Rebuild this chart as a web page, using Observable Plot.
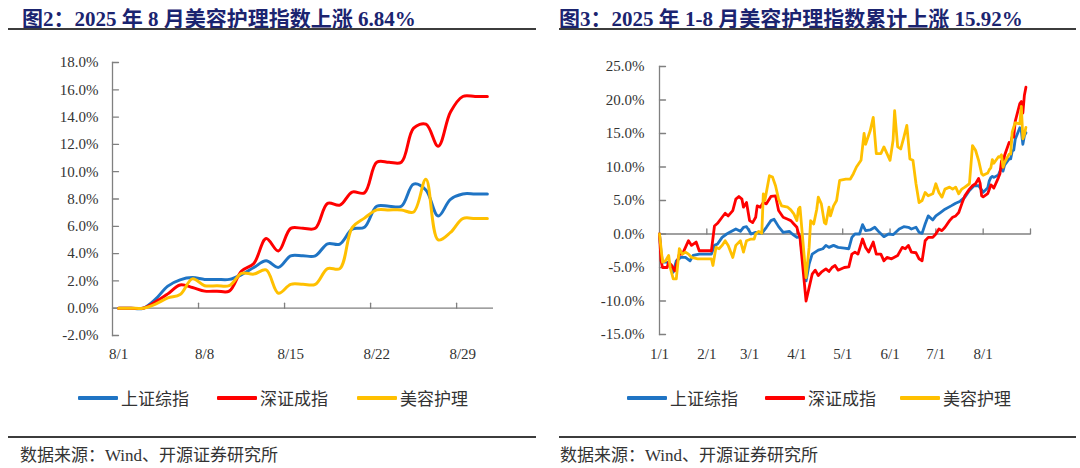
<!DOCTYPE html>
<html><head><meta charset="utf-8">
<script src="https://cdn.jsdelivr.net/npm/d3@7"></script>
<script src="https://cdn.jsdelivr.net/npm/@observablehq/plot@0.6"></script>
<style>
html,body{margin:0;padding:0;background:#fff;}
body{width:1080px;height:468px;overflow:hidden;position:relative;font-family:"Liberation Serif","Noto Sans CJK SC",serif;}
.title{position:absolute;top:2px;font-weight:bold;font-size:21px;color:#1b2470;white-space:nowrap;}
.rule{position:absolute;height:2px;background:#3c3c3c;}
.chart{position:absolute;top:50px;width:540px;height:320px;}
.item{position:absolute;top:385px;display:flex;align-items:center;font-size:17px;color:#333;white-space:nowrap;}
.sw{width:40px;height:4px;margin-right:3px;border-radius:1px;}
.source{position:absolute;top:441px;font-size:17px;color:#333;white-space:nowrap;}
</style></head>
<body>
<div class="title" style="left:22px">图2：2025 年 8 月美容护理指数上涨 6.84%</div>
<div class="title" style="left:559px">图3：2025 年 1-8 月美容护理指数累计上涨 15.92%</div>
<div class="rule" style="left:8px;width:528px;top:28px"></div>
<div class="rule" style="left:559px;width:517px;top:28px"></div>
<div class="chart" id="left" style="left:0px"></div>
<div class="chart" id="right" style="left:540px"></div>
<div id="legends"></div>
<div class="rule" style="left:8px;width:528px;top:436px;height:1.5px"></div>
<div class="rule" style="left:559px;width:517px;top:436px;height:1.5px"></div>
<div class="source" style="left:20px">数据来源：Wind、开源证券研究所</div>
<div class="source" style="left:560px">数据来源：Wind、开源证券研究所</div>
<script>
// ---------- data ----------
const seriesNames = ["上证综指", "深证成指", "美容护理"];
const seriesColors = ["#1f74c4", "#ff0000", "#ffc000"];

// Figure 2: August 2025, calendar days (weekends carry the last close)
const augDays = ["8/1","8/2","8/3","8/4","8/5","8/6","8/7","8/8","8/9","8/10","8/11","8/12","8/13","8/14","8/15","8/16","8/17","8/18","8/19","8/20","8/21","8/22","8/23","8/24","8/25","8/26","8/27","8/28","8/29","8/30","8/31"];
const augShanghai = [0,0,0,0.66,1.62,2.08,2.24,2.11,2.11,2.11,2.46,2.98,3.47,2.99,3.84,3.84,3.84,4.72,4.70,5.79,5.93,7.47,7.47,7.47,9.09,8.66,6.75,7.97,8.37,8.37,8.37];
const augShenzhen = [0,0,0,0.46,1.05,1.70,1.52,1.25,1.25,1.25,2.73,3.28,5.10,4.19,5.85,5.85,5.85,7.68,7.55,8.51,8.45,10.69,10.69,10.69,13.19,13.48,11.86,14.37,15.51,15.51,15.51];
const augBeauty = [0,0,0,0.30,0.75,1.00,2.15,1.65,1.65,1.65,2.55,2.50,2.80,1.10,1.75,1.75,1.75,2.90,2.90,5.90,6.60,7.20,7.20,7.20,7.05,9.45,5.00,5.55,6.57,6.57,6.57];
const augLabelDays = ["8/1","8/8","8/15","8/22","8/29"];
const augYTicks = [-2,0,2,4,6,8,10,12,14,16,18];

// Figure 3: 2025-01-01 .. 2025-08-29, cumulative %
const ytdShanghai = [
["01-01",0],["01-02",-2.7],["01-03",-4.2],["01-06",-4.2],["01-08",-4.7],["01-10",-5.7],["01-12",-4.0],["01-15",-3.5],["01-18",-3.5],["01-21",-4.0],["01-23",-3.2],["01-27",-3.0],["02-04",-3.0],["02-06",-1.7],["02-08",-1.5],["02-11",-0.5],["02-14",0],["02-16",0.25],["02-20",0.75],["02-23",0.4],["02-25",1.0],["02-27",1.1],["03-02",0],["03-05",0.25],["03-09",0.1],["03-12",1.0],["03-15",2.0],["03-17",2.2],["03-20",1.1],["03-23",0.25],["03-27",0.4],["03-29",0],["04-01",-0.5],["04-03",-0.4],["04-07",-7.0],["04-09",-4.5],["04-11",-3.0],["04-13",-2.7],["04-15",-2.4],["04-18",-2.2],["04-20",-1.7],["04-22",-2.0],["04-25",-1.7],["04-28",-2.0],["05-02",-2.1],["05-05",-2.2],["05-07",-0.5],["05-09",0],["05-12",0],["05-14",1.4],["05-16",0.5],["05-19",0.6],["05-22",1.0],["05-25",0.25],["05-28",-0.4],["05-31",0],["06-03",-0.1],["06-07",0.75],["06-10",1.1],["06-13",1.0],["06-15",0.75],["06-18",1.0],["06-20",0.25],["06-22",0.1],["06-24",1.5],["06-26",2.7],["06-29",2.1],["07-01",2.7],["07-04",3.2],["07-07",3.7],["07-11",4.2],["07-14",4.6],["07-17",4.9],["07-20",5.5],["07-23",6.5],["07-26",7.2],["07-29",7.2],["07-31",6.6],
["08-01",6.21],["08-04",6.91],["08-05",7.93],["08-06",8.42],["08-07",8.59],["08-08",8.45],["08-11",8.82],["08-12",9.37],["08-13",9.89],["08-14",9.38],["08-15",10.29],["08-18",11.22],["08-19",11.20],["08-20",12.36],["08-21",12.51],["08-22",14.15],["08-25",15.86],["08-26",15.41],["08-27",13.38],["08-28",14.67],["08-29",15.10]];
const ytdShenzhen = [
["01-01",0],["01-02",-4.0],["01-03",-5.0],["01-06",-5.0],["01-07",-4.2],["01-09",-4.7],["01-11",-5.5],["01-14",-3.0],["01-16",-3.0],["01-20",-1.0],["01-22",-1.7],["01-25",-1.2],["01-27",-2.5],["02-04",-2.5],["02-06",1.2],["02-08",1.6],["02-11",2.5],["02-13",3.1],["02-15",2.7],["02-18",3.5],["02-20",5.2],["02-22",5.6],["02-24",5.2],["02-25",4.0],["02-27",4.7],["03-01",2.0],["03-03",1.7],["03-05",2.5],["03-06",4.2],["03-08",4.0],["03-10",4.7],["03-12",4.5],["03-15",5.6],["03-18",5.7],["03-20",3.5],["03-23",2.5],["03-26",2.2],["03-28",2.0],["03-30",1.5],["04-01",1.0],["04-02",0.1],["04-03",-0.5],["04-07",-10.0],["04-09",-8.0],["04-11",-6.0],["04-13",-5.4],["04-15",-6.2],["04-17",-5.7],["04-20",-5.2],["04-22",-5.6],["04-24",-5.0],["04-26",-4.7],["04-28",-5.4],["05-02",-5.0],["05-05",-4.9],["05-07",-3.0],["05-09",-2.7],["05-11",-3.0],["05-14",-0.75],["05-16",-2.0],["05-18",-2.7],["05-21",-1.2],["05-23",-3.0],["05-26",-3.0],["05-28",-4.0],["05-30",-3.5],["06-02",-3.7],["06-06",-3.2],["06-09",-2.0],["06-11",-2.2],["06-13",-1.7],["06-15",-2.7],["06-18",-2.8],["06-20",-3.7],["06-22",-4.0],["06-24",-1.0],["06-26",-0.5],["06-29",-0.5],["07-01",0],["07-03",0.75],["07-05",0.5],["07-07",1.0],["07-10",2.0],["07-12",2.5],["07-14",2.7],["07-16",3.2],["07-18",4.5],["07-20",5.7],["07-23",6.7],["07-25",7.2],["07-27",7.5],["07-29",8.3],["07-30",7.6],["07-31",5.7],
["08-01",5.54],["08-04",6.03],["08-05",6.65],["08-06",7.33],["08-07",7.15],["08-08",6.86],["08-11",8.42],["08-12",9.00],["08-13",10.92],["08-14",9.96],["08-15",11.71],["08-18",13.65],["08-19",13.51],["08-20",14.52],["08-21",14.46],["08-22",16.82],["08-25",19.46],["08-26",19.77],["08-27",18.06],["08-28",20.71],["08-29",21.91]];
const ytdBeauty = [
["01-01",0],["01-03",-4.2],["01-05",-4.0],["01-07",-3.2],["01-08",-5.0],["01-10",-6.7],["01-12",-6.7],["01-14",-2.2],["01-16",-3.0],["01-18",-2.7],["01-20",-3.0],["01-22",-3.5],["01-26",-3.7],["02-04",-3.7],["02-05",-4.7],["02-07",-2.0],["02-09",-2.2],["02-11",-1.7],["02-13",-1.0],["02-15",-1.7],["02-18",-3.5],["02-20",-1.7],["02-23",-1.0],["02-25",-2.7],["02-27",-1.0],["03-02",-0.75],["03-04",-0.75],["03-05",0],["03-07",0.4],["03-09",0.1],["03-10",6.0],["03-11",5.0],["03-14",8.7],["03-16",8.5],["03-18",7.2],["03-20",5.2],["03-22",4.2],["03-26",4.0],["03-28",3.6],["03-30",3.0],["04-01",2.0],["04-02",3.7],["04-03",4.0],["04-07",-6.5],["04-09",-2.0],["04-10",2.0],["04-12",1.5],["04-14",3.7],["04-15",5.5],["04-17",4.5],["04-19",1.7],["04-20",1.5],["04-22",4.0],["04-23",2.7],["04-25",4.2],["04-27",5.0],["04-29",8.0],["05-03",8.2],["05-06",8.2],["05-08",9.0],["05-10",10.0],["05-13",11.0],["05-15",15.0],["05-16",13.4],["05-19",15.4],["05-21",17.4],["05-23",12.0],["05-26",12.0],["05-28",13.0],["05-30",12.0],["06-01",11.0],["06-03",14.0],["06-04",18.4],["06-06",13.0],["06-08",12.7],["06-10",14.4],["06-12",16.2],["06-14",11.2],["06-16",11.0],["06-18",7.5],["06-20",4.7],["06-22",5.0],["06-24",6.2],["06-26",5.7],["06-29",6.0],["07-01",7.5],["07-03",6.2],["07-05",5.5],["07-07",6.7],["07-10",7.0],["07-12",6.7],["07-14",7.0],["07-16",6.0],["07-18",6.7],["07-20",7.0],["07-23",7.5],["07-25",13.2],["07-27",12.5],["07-29",11.0],["07-31",9.0],
["08-01",8.77],["08-04",9.10],["08-05",9.59],["08-06",9.86],["08-07",11.11],["08-08",10.56],["08-11",11.54],["08-12",11.49],["08-13",11.82],["08-14",9.97],["08-15",10.67],["08-18",11.92],["08-19",11.92],["08-20",15.19],["08-21",15.95],["08-22",16.60],["08-25",16.44],["08-26",19.05],["08-27",14.21],["08-28",14.81],["08-29",15.92]];
const ytdMonthLabels = ["1/1","2/1","3/1","4/1","5/1","6/1","7/1","8/1"];
const ytdTickMonths = ["02-01","03-01","04-01","05-01","06-01","07-01","08-01","09-01"];
const ytdYTicks = [-15,-10,-5,0,5,10,15,20,25];

// ---------- build ----------
const axisColor = "#808080";
const tickShape = {draw(context, l) { context.moveTo(0, 0); context.lineTo(0, -l); }};
const pct = d => d.toFixed(1) + "%";
const color = {domain: seriesNames, range: seriesColors};
const baseStyle = {fontFamily: "'Liberation Serif', serif", fontSize: "15px", color: "#333", background: "transparent", overflow: "visible"};

const augRows = [];
[augShanghai, augShenzhen, augBeauty].forEach((arr, k) => arr.forEach((v, i) => augRows.push({i, s: seriesNames[k], v})));
const augLabelIdx = augLabelDays.map(d => augDays.indexOf(d));
const augTickMarks = augLabelIdx.slice(1).map(i => i - 0.5);

const leftPlot = Plot.plot({
  width: 540, height: 320, marginLeft: 112, marginRight: 47, marginTop: 12, marginBottom: 35,
  style: baseStyle, color,
  x: {type: "linear", domain: [-0.5, augDays.length - 0.5]},
  y: {domain: [augYTicks[0], augYTicks[augYTicks.length - 1]]},
  marks: [
    Plot.frame({anchor: "left", stroke: axisColor, strokeWidth: 1.3}),
    Plot.ruleY([0], {stroke: axisColor, strokeWidth: 1.3}),
    Plot.vector(augYTicks, {y: d => d, frameAnchor: "left", rotate: 90, length: 6, anchor: "start", shape: tickShape, stroke: axisColor, strokeWidth: 1.3}),
    Plot.vector(augTickMarks, {x: d => d, y: 0, length: 5, anchor: "start", shape: tickShape, stroke: axisColor, strokeWidth: 1.3}),
    Plot.axisY({ticks: augYTicks, tickSize: 0, tickPadding: 14, tickFormat: pct, label: null, fill: "#333"}),
    Plot.axisX({ticks: augLabelIdx, tickSize: 0, tickPadding: 13, tickFormat: i => augDays[i], label: null, fill: "#333"}),
    Plot.line(augRows, {x: "i", y: "v", z: "s", stroke: "s", strokeWidth: 3, curve: "catmull-rom"})
  ]
});
document.getElementById("left").append(leftPlot);

const parse = md => new Date("2025-" + md + "T00:00:00Z");
const ytdRows = [];
[ytdShanghai, ytdShenzhen, ytdBeauty].forEach((arr, k) => arr.forEach(([d, v]) => ytdRows.push({date: parse(d), s: seriesNames[k], v})));
const monthLabelDates = ytdMonthLabels.map(l => { const [m, d] = l.split("/"); return parse(m.padStart(2, "0") + "-" + d.padStart(2, "0")); });

const rightPlot = Plot.plot({
  width: 540, height: 320, marginLeft: 119, marginRight: 50, marginTop: 16, marginBottom: 36,
  style: baseStyle, color,
  x: {type: "utc", domain: [parse("01-01"), parse(ytdTickMonths[ytdTickMonths.length - 1])]},
  y: {domain: [ytdYTicks[0], ytdYTicks[ytdYTicks.length - 1]]},
  marks: [
    Plot.frame({anchor: "left", stroke: axisColor, strokeWidth: 1.3}),
    Plot.ruleY([0], {stroke: axisColor, strokeWidth: 1.3}),
    Plot.vector(ytdYTicks, {y: d => d, frameAnchor: "left", rotate: 90, length: 6, anchor: "start", shape: tickShape, stroke: axisColor, strokeWidth: 1.3}),
    Plot.vector(ytdTickMonths.map(parse), {x: d => d, y: 0, length: 5, anchor: "start", shape: tickShape, stroke: axisColor, strokeWidth: 1.3}),
    Plot.axisY({ticks: ytdYTicks, tickSize: 0, tickPadding: 15, tickFormat: pct, label: null, fill: "#333"}),
    Plot.axisX({ticks: monthLabelDates, tickSize: 0, tickPadding: 14, tickFormat: (d, i) => ytdMonthLabels[i], label: null, fill: "#333"}),
    Plot.line(ytdRows, {x: "date", y: "v", z: "s", stroke: "s", strokeWidth: 2.8, curve: "linear"})
  ]
});
document.getElementById("right").append(rightPlot);

// legends
const legendPos = [[78, 217, 357], [627, 765, 900]];
const lg = document.getElementById("legends");
legendPos.forEach(row => row.forEach((x, k) => {
  const it = document.createElement("div");
  it.className = "item"; it.style.left = x + "px";
  it.innerHTML = `<span class="sw" style="background:${seriesColors[k]}"></span><span>${seriesNames[k]}</span>`;
  lg.append(it);
}));
</script>
</body></html>
